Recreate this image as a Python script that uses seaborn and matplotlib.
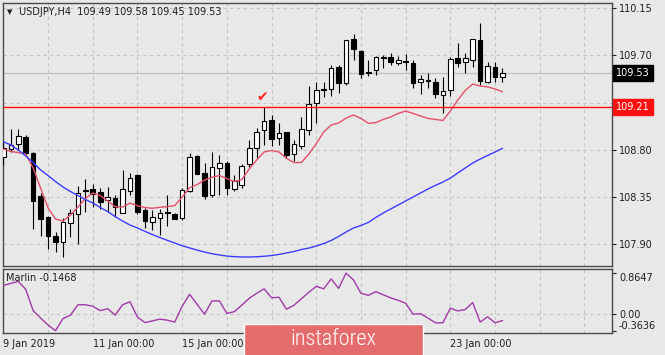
import numpy as np
import pandas as pd
import matplotlib
matplotlib.use("Agg")
import matplotlib.pyplot as plt
import matplotlib.transforms as mtransforms
from matplotlib.patches import Rectangle
import seaborn as sns

# ---------------- data ----------------
title_text = "USDJPY,H4  109.49 109.58 109.45 109.53"
indicator_text = "Marlin -0.1468"

opens = [108.73, 108.81, 108.86, 108.92, 108.77, 108.36, 108.16, 107.98, 107.92, 108.10,
         108.19, 108.41, 108.43, 108.40, 108.32, 108.345, 108.20, 108.41, 108.56, 108.23,
         108.11, 108.15, 108.205, 108.19, 108.15, 108.41, 108.745, 108.585, 108.37, 108.625,
         108.675, 108.425, 108.466, 108.67, 108.815, 108.99, 109.084, 108.916, 108.967, 108.758,
         108.84, 108.99, 109.25, 109.376, 109.376, 109.592, 109.434, 109.852, 109.744, 109.544,
         109.56, 109.675, 109.687, 109.63, 109.645, 109.63, 109.443, 109.462, 109.45, 109.322,
         109.37, 109.67, 109.64, 109.66, 109.846, 109.45, 109.586, 109.49]
highs = [108.88, 109.00, 109.00, 108.94, 108.78, 108.39, 108.17, 108.02, 108.15, 108.24,
         108.46, 108.52, 108.48, 108.44, 108.45, 108.37, 108.61, 108.58, 108.57, 108.25,
         108.23, 108.24, 108.37, 108.20, 108.435, 108.77, 108.75, 108.68, 108.78, 108.75,
         108.69, 108.56, 108.67, 108.89, 109.005, 109.205, 109.132, 109.06, 108.97, 108.894,
         109.11, 109.408, 109.443, 109.45, 109.608, 109.61, 109.85, 109.90, 109.755, 109.66,
         109.69, 109.70, 109.72, 109.69, 109.71, 109.655, 109.513, 109.53, 109.48, 109.497,
         109.687, 109.814, 109.72, 109.855, 110.004, 109.64, 109.64, 109.58]
lows = [108.66, 108.78, 108.80, 108.75, 108.05, 107.98, 107.86, 107.83, 107.78, 107.97,
        107.90, 108.21, 108.26, 108.24, 108.21, 108.165, 108.195, 108.37, 108.19, 108.06,
        108.04, 107.99, 108.08, 108.14, 108.13, 108.40, 108.57, 108.33, 108.355, 108.37,
        108.37, 108.41, 108.44, 108.64, 108.72, 108.85, 108.837, 108.85, 108.72, 108.69,
        108.806, 108.94, 109.06, 109.306, 109.31, 109.344, 109.42, 109.66, 109.48, 109.50,
        109.513, 109.576, 109.61, 109.61, 109.56, 109.39, 109.33, 109.386, 109.29, 109.154,
        109.313, 109.59, 109.53, 109.586, 109.417, 109.44, 109.45, 109.45]
closes = [108.82, 108.85, 108.93, 108.77, 108.31, 108.14, 107.98, 107.92, 108.11, 108.20,
          108.39, 108.42, 108.38, 108.30, 108.355, 108.255, 108.425, 108.53, 108.21, 108.12,
          108.16, 108.20, 108.195, 108.145, 108.42, 108.735, 108.57, 108.36, 108.64, 108.68,
          108.435, 108.50, 108.647, 108.82, 108.973, 109.078, 108.90, 108.957, 108.75, 108.853,
          109.00, 109.236, 109.37, 109.37, 109.576, 109.434, 109.846, 109.757, 109.522, 109.535,
          109.68, 109.68, 109.633, 109.66, 109.64, 109.44, 109.475, 109.455, 109.33, 109.36,
          109.665, 109.63, 109.67, 109.852, 109.458, 109.598, 109.496, 109.53]

ma_fast = [108.808, 108.785, 108.775, 108.76, 108.627, 108.437, 108.247, 108.142, 108.123, 108.18,
           108.256, 108.337, 108.39, 108.366, 108.314, 108.26, 108.256, 108.294, 108.268, 108.252,
           108.244, 108.254, 108.26, 108.27, 108.35, 108.44, 108.47, 108.513, 108.54, 108.556,
           108.527, 108.499, 108.518, 108.618, 108.704, 108.78, 108.795, 108.78, 108.72, 108.68,
           108.68, 108.76, 108.86, 108.97, 109.037, 109.056, 109.103, 109.132, 109.099, 109.053,
           109.06, 109.09, 109.114, 109.147, 109.17, 109.147, 109.123, 109.10, 109.09, 109.08,
           109.17, 109.275, 109.366, 109.427, 109.408, 109.40, 109.38, 109.354]
ma_slow = [108.878, 108.847, 108.799, 108.742, 108.68, 108.609, 108.556, 108.499, 108.447, 108.404,
           108.366, 108.328, 108.295, 108.252, 108.214, 108.166, 108.123, 108.085, 108.057, 108.025,
           107.995, 107.966, 107.94, 107.914, 107.888, 107.867, 107.847, 107.828, 107.812, 107.80,
           107.79, 107.784, 107.781, 107.781, 107.783, 107.788, 107.795, 107.806, 107.819, 107.833,
           107.852, 107.866, 107.885, 107.909, 107.938, 107.976, 108.019, 108.057, 108.081, 108.11,
           108.157, 108.20, 108.238, 108.276, 108.314, 108.352, 108.39, 108.428, 108.463, 108.494,
           108.532, 108.58, 108.628, 108.675, 108.713, 108.747, 108.78, 108.815]
marlin = [0.604, 0.646, 0.689, 0.519, 0.064, -0.095, -0.244, -0.3636, -0.106, -0.032,
          0.19, 0.19, 0.159, 0.064, 0.106, -0.032, 0.19, 0.254, -0.074, -0.19,
          -0.155, -0.117, -0.138, -0.18, 0.159, 0.413, 0.201, -0.011, 0.271, 0.271,
          0.004, 0.042, 0.18, 0.328, 0.434, 0.53, 0.339, 0.35, 0.095, 0.18,
          0.318, 0.455, 0.583, 0.53, 0.742, 0.54, 0.8647, 0.72, 0.434, 0.392,
          0.47, 0.403, 0.335, 0.286, 0.222, -0.011, 0.0, -0.095, -0.195, -0.195,
          0.117, 0.059, 0.089, 0.237, -0.18, -0.068, -0.195, -0.1468]

price_ticks = [110.15, 109.70, 109.25, 108.80, 108.35, 107.90]
marlin_ticks = [0.8647, 0.0, -0.3636]
marlin_tick_labels = ["0.8647", "0.00", "-0.3636"]
date_tick_pos = [0, 12, 24, 36, 48, 60]
date_labels = ["9 Jan 2019", "11 Jan 00:00", "15 Jan 00:00", "17 Jan 00:00",
               "21 Jan 00:00", "23 Jan 00:00"]
bid_price = 109.53
level_price = 109.21
check_bar, check_price = 34.7, 109.30

# ---------------- style ----------------
sns.set_style("white")
plt.rcParams['font.family'] = ['DejaVu Sans']
plt.rcParams['font.size'] = 7

BG = "#e8e8e8"
GRID = "#c4c4c4"
SPINE = "#4a4a4a"
TXT = "#1e1e1e"

W, H = 665, 355
fig = plt.figure(figsize=(W / 100, H / 100), dpi=100, facecolor=BG)


def fbox(l, t, r, b):
    return [l / W, 1 - b / H, (r - l) / W, (b - t) / H]


ax = fig.add_axes(fbox(3, 3, 612, 265.5))
ax2 = fig.add_axes(fbox(3, 268.5, 612, 333))
for a in (ax, ax2):
    a.set_facecolor(BG)
    for s in a.spines.values():
        s.set_color(SPINE)
        s.set_linewidth(1.0)

n = len(opens)
df = pd.DataFrame({"bar": np.arange(n), "open": opens, "high": highs, "low": lows,
                   "close": closes, "ma_fast": ma_fast, "ma_slow": ma_slow, "marlin": marlin})

# ---------------- candles ----------------
o = df["open"].to_numpy()
c = df["close"].to_numpy()
bull = c >= o
ax.vlines(df["bar"], df["low"], df["high"], color="black", lw=0.8, zorder=3)
bottoms = np.minimum(o, c)
heights = np.maximum(np.abs(c - o), 0.002)
ax.bar(df["bar"], heights, bottom=bottoms, width=0.62,
       color=np.where(bull, "white", "black"), edgecolor="black", linewidth=0.8, zorder=4)

# moving averages
sns.lineplot(data=df, x="bar", y="ma_fast", ax=ax, color="#e4506a", lw=1.0, legend=False, zorder=5)
sns.lineplot(data=df, x="bar", y="ma_slow", ax=ax, color="#3c3cff", lw=1.0, legend=False, zorder=5)

# level lines
ax.axhline(bid_price, color="#c2c2c2", lw=1.0, zorder=1.6)
ax.axhline(level_price, color="#ff1010", lw=1.0, zorder=6)

ax.text(check_bar, check_price, "\u2714", color="#ff2020", fontsize=10, ha="center", va="center", zorder=7)

# axes
XMIN, XMAX = -0.05, 81.7
ax.set_xlim(XMIN, XMAX)
ax.set_ylim(107.70, 110.198)
ax.set_xlabel("")
ax.set_ylabel("")
ax.set_xticks(np.arange(6, 82, 6))
ax.tick_params(axis="x", bottom=False, labelbottom=False)
ax.yaxis.tick_right()
ax.set_yticks(price_ticks)
ax.set_yticklabels([f"{v:.2f}" for v in price_ticks])
ax.tick_params(axis="y", direction="out", length=3, width=0.8, pad=2, labelsize=7,
               colors=TXT, left=False, right=True, labelright=True, labelleft=False)
ax.grid(True, axis="both", linestyle=(0, (3, 3)), color=GRID, lw=0.8, zorder=0)
ax.set_axisbelow(True)

tr = mtransforms.blended_transform_factory(ax.transAxes, ax.transData)
ax.text(1.0 + 4 / 609, bid_price, "109.53", transform=tr, color="white", fontsize=7,
        ha="left", va="center", clip_on=False, zorder=10,
        bbox=dict(boxstyle="square,pad=0.3", fc="black", ec="black"))
ax.text(1.0 + 4 / 609, level_price, "109.21", transform=tr, color="white", fontsize=7,
        ha="left", va="center", clip_on=False, zorder=10,
        bbox=dict(boxstyle="square,pad=0.3", fc="#ff1010", ec="#ff1010"))

# ---------------- indicator panel ----------------
sns.lineplot(data=df, x="bar", y="marlin", ax=ax2, color="#a03aa6", lw=1.0, legend=False, zorder=5)
ax2.axhline(0, linestyle=(0, (3, 3)), color=GRID, lw=0.8, zorder=0)
ax2.set_xlim(XMIN, XMAX)
ax2.set_ylim(-0.413, 0.964)
ax2.set_xlabel("")
ax2.set_ylabel("")
ax2.set_xticks(date_tick_pos)
ax2.set_xticklabels(date_labels)
ax2.set_xticks(np.arange(6, 82, 6), minor=True)
ax2.tick_params(axis="x", which="major", direction="out", length=3, width=0.8, pad=1.5,
                labelsize=7, colors=TXT)
ax2.tick_params(axis="x", which="minor", length=0)
for lab in ax2.get_xticklabels():
    lab.set_ha("left")
ax2.grid(True, which="minor", axis="x", linestyle=(0, (3, 3)), color=GRID, lw=0.8, zorder=0)
ax2.grid(True, which="major", axis="x", linestyle=(0, (3, 3)), color=GRID, lw=0.8, zorder=0)
ax2.yaxis.tick_right()
ax2.set_yticks(marlin_ticks)
ax2.set_yticklabels(marlin_tick_labels)
ax2.tick_params(axis="y", direction="out", length=3, width=0.8, pad=2, labelsize=7,
                colors=TXT, left=False, right=True, labelright=True, labelleft=False)
ylabs = ax2.get_yticklabels()
ylabs[0].set_va("top")
ylabs[2].set_va("bottom")

# ---------------- header texts ----------------
fig.text(7 / W, 1 - 12 / H, "\u25bc", fontsize=5, color=TXT, ha="left", va="center")
fig.text(19 / W, 1 - 12 / H, title_text, fontsize=7, color=TXT, ha="left", va="center")
fig.text(6 / W, 1 - 278 / H, indicator_text, fontsize=7, color=TXT, ha="left", va="center")

# ---------------- watermark ----------------
fig.add_artist(Rectangle((243.5 / W, -0.01), (422.5 - 243.5) / W, (1 - 323.5 / H) + 0.01,
                         transform=fig.transFigure, facecolor="#e46c6c", edgecolor="white",
                         lw=1.0, zorder=20))
fig.text(333 / W, 1 - 339.5 / H, "instaforex", color="white", fontsize=16, ha="center", va="center",
         family=["Roboto Condensed", "Liberation Sans Narrow", "DejaVu Sans"],
         fontstretch="condensed", fontweight="light", zorder=21)

fig.savefig("out.png", dpi=100, facecolor=BG)
